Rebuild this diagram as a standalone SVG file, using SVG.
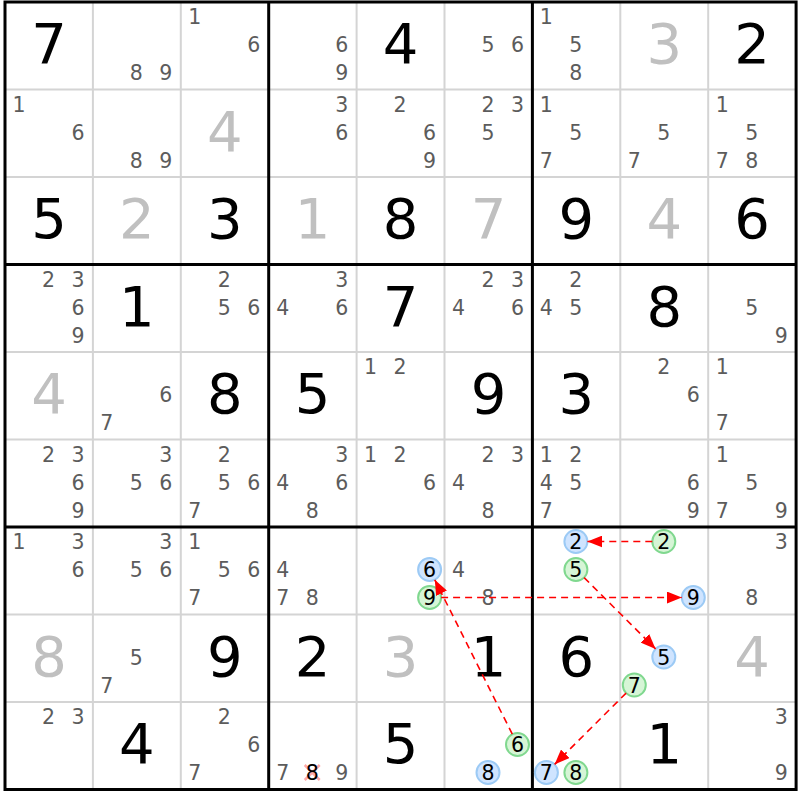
<svg xmlns="http://www.w3.org/2000/svg" width="800" height="800" viewBox="0 0 800 800">
<style>
text{font-family:"DejaVu Sans","Verdana",sans-serif;text-anchor:middle}
.g{font-size:56px;fill:#000}
.s{font-size:56px;fill:#c0c0c0}
.c{font-size:20.5px;fill:#5c5c5c}
.h{font-size:20.5px;fill:#000}
.thin{stroke:#d4d4d4;stroke-width:2}
.thick{stroke:#000;stroke-width:3}
.cb{fill:#cfe4ff;stroke:#9ccaf5;stroke-width:2}
.cg{fill:#d6f5d6;stroke:#80d88f;stroke-width:2}
.arr{stroke:#f00;stroke-width:1.6;stroke-dasharray:7,5;fill:none;marker-end:url(#ah)}
</style>
<defs>
<marker id="ah" markerUnits="userSpaceOnUse" markerWidth="15" markerHeight="12" refX="15" refY="6" orient="auto">
<path d="M0,0 L15,6 L0,12 z" fill="#f00"/>
</marker>
</defs>
<rect x="0" y="0" width="800" height="800" fill="#fff"/>
<g id="gridlines">
<path class="thin" d="M92.9,2V789.5M180.8,2V789.5M356.6,2V789.5M444.5,2V789.5M620.3,2V789.5M708.2,2V789.5M5,89.5H796.1M5,177H796.1M5,352H796.1M5,439.5H796.1M5,614.5H796.1M5,702H796.1"/>
<path class="thick" d="M268.7,2V789.5M532.4,2V789.5M5,264.5H796.1M5,527H796.1"/>
<rect class="thick" x="5" y="2" width="791.1" height="787.5" fill="none"/>
</g>
<!-- Row 0 -->
<g id="r0c0" transform="translate(5,2)"><text class="g" x="44" y="61">7</text></g>
<g id="r0c1" transform="translate(92.9,2)"><text class="c" x="43.5" y="78">8</text><text class="c" x="73" y="78">9</text></g>
<g id="r0c2" transform="translate(180.8,2)"><text class="c" x="14" y="22">1</text><text class="c" x="73" y="50">6</text></g>
<g id="r0c3" transform="translate(268.7,2)"><text class="c" x="73" y="50">6</text><text class="c" x="73" y="78">9</text></g>
<g id="r0c4" transform="translate(356.6,2)"><text class="g" x="44" y="61">4</text></g>
<g id="r0c5" transform="translate(444.5,2)"><text class="c" x="43.5" y="50">5</text><text class="c" x="73" y="50">6</text></g>
<g id="r0c6" transform="translate(532.4,2)"><text class="c" x="14" y="22">1</text><text class="c" x="43.5" y="50">5</text><text class="c" x="43.5" y="78">8</text></g>
<g id="r0c7" transform="translate(620.3,2)"><text class="s" x="44" y="61">3</text></g>
<g id="r0c8" transform="translate(708.2,2)"><text class="g" x="44" y="61">2</text></g>
<!-- Row 1 -->
<g id="r1c0" transform="translate(5,89.5)"><text class="c" x="14" y="22">1</text><text class="c" x="73" y="50">6</text></g>
<g id="r1c1" transform="translate(92.9,89.5)"><text class="c" x="43.5" y="78">8</text><text class="c" x="73" y="78">9</text></g>
<g id="r1c2" transform="translate(180.8,89.5)"><text class="s" x="44" y="61">4</text></g>
<g id="r1c3" transform="translate(268.7,89.5)"><text class="c" x="73" y="22">3</text><text class="c" x="73" y="50">6</text></g>
<g id="r1c4" transform="translate(356.6,89.5)"><text class="c" x="43.5" y="22">2</text><text class="c" x="73" y="50">6</text><text class="c" x="73" y="78">9</text></g>
<g id="r1c5" transform="translate(444.5,89.5)"><text class="c" x="43.5" y="22">2</text><text class="c" x="73" y="22">3</text><text class="c" x="43.5" y="50">5</text></g>
<g id="r1c6" transform="translate(532.4,89.5)"><text class="c" x="14" y="22">1</text><text class="c" x="43.5" y="50">5</text><text class="c" x="14" y="78">7</text></g>
<g id="r1c7" transform="translate(620.3,89.5)"><text class="c" x="43.5" y="50">5</text><text class="c" x="14" y="78">7</text></g>
<g id="r1c8" transform="translate(708.2,89.5)"><text class="c" x="14" y="22">1</text><text class="c" x="43.5" y="50">5</text><text class="c" x="14" y="78">7</text><text class="c" x="43.5" y="78">8</text></g>
<!-- Row 2 -->
<g id="r2c0" transform="translate(5,177)"><text class="g" x="44" y="61">5</text></g>
<g id="r2c1" transform="translate(92.9,177)"><text class="s" x="44" y="61">2</text></g>
<g id="r2c2" transform="translate(180.8,177)"><text class="g" x="44" y="61">3</text></g>
<g id="r2c3" transform="translate(268.7,177)"><text class="s" x="44" y="61">1</text></g>
<g id="r2c4" transform="translate(356.6,177)"><text class="g" x="44" y="61">8</text></g>
<g id="r2c5" transform="translate(444.5,177)"><text class="s" x="44" y="61">7</text></g>
<g id="r2c6" transform="translate(532.4,177)"><text class="g" x="44" y="61">9</text></g>
<g id="r2c7" transform="translate(620.3,177)"><text class="s" x="44" y="61">4</text></g>
<g id="r2c8" transform="translate(708.2,177)"><text class="g" x="44" y="61">6</text></g>
<!-- Row 3 -->
<g id="r3c0" transform="translate(5,264.5)"><text class="c" x="43.5" y="22">2</text><text class="c" x="73" y="22">3</text><text class="c" x="73" y="50">6</text><text class="c" x="73" y="78">9</text></g>
<g id="r3c1" transform="translate(92.9,264.5)"><text class="g" x="44" y="61">1</text></g>
<g id="r3c2" transform="translate(180.8,264.5)"><text class="c" x="43.5" y="22">2</text><text class="c" x="43.5" y="50">5</text><text class="c" x="73" y="50">6</text></g>
<g id="r3c3" transform="translate(268.7,264.5)"><text class="c" x="73" y="22">3</text><text class="c" x="14" y="50">4</text><text class="c" x="73" y="50">6</text></g>
<g id="r3c4" transform="translate(356.6,264.5)"><text class="g" x="44" y="61">7</text></g>
<g id="r3c5" transform="translate(444.5,264.5)"><text class="c" x="43.5" y="22">2</text><text class="c" x="73" y="22">3</text><text class="c" x="14" y="50">4</text><text class="c" x="73" y="50">6</text></g>
<g id="r3c6" transform="translate(532.4,264.5)"><text class="c" x="43.5" y="22">2</text><text class="c" x="14" y="50">4</text><text class="c" x="43.5" y="50">5</text></g>
<g id="r3c7" transform="translate(620.3,264.5)"><text class="g" x="44" y="61">8</text></g>
<g id="r3c8" transform="translate(708.2,264.5)"><text class="c" x="43.5" y="50">5</text><text class="c" x="73" y="78">9</text></g>
<!-- Row 4 -->
<g id="r4c0" transform="translate(5,352)"><text class="s" x="44" y="61">4</text></g>
<g id="r4c1" transform="translate(92.9,352)"><text class="c" x="73" y="50">6</text><text class="c" x="14" y="78">7</text></g>
<g id="r4c2" transform="translate(180.8,352)"><text class="g" x="44" y="61">8</text></g>
<g id="r4c3" transform="translate(268.7,352)"><text class="g" x="44" y="61">5</text></g>
<g id="r4c4" transform="translate(356.6,352)"><text class="c" x="14" y="22">1</text><text class="c" x="43.5" y="22">2</text></g>
<g id="r4c5" transform="translate(444.5,352)"><text class="g" x="44" y="61">9</text></g>
<g id="r4c6" transform="translate(532.4,352)"><text class="g" x="44" y="61">3</text></g>
<g id="r4c7" transform="translate(620.3,352)"><text class="c" x="43.5" y="22">2</text><text class="c" x="73" y="50">6</text></g>
<g id="r4c8" transform="translate(708.2,352)"><text class="c" x="14" y="22">1</text><text class="c" x="14" y="78">7</text></g>
<!-- Row 5 -->
<g id="r5c0" transform="translate(5,439.5)"><text class="c" x="43.5" y="22">2</text><text class="c" x="73" y="22">3</text><text class="c" x="73" y="50">6</text><text class="c" x="73" y="78">9</text></g>
<g id="r5c1" transform="translate(92.9,439.5)"><text class="c" x="73" y="22">3</text><text class="c" x="43.5" y="50">5</text><text class="c" x="73" y="50">6</text></g>
<g id="r5c2" transform="translate(180.8,439.5)"><text class="c" x="43.5" y="22">2</text><text class="c" x="43.5" y="50">5</text><text class="c" x="73" y="50">6</text><text class="c" x="14" y="78">7</text></g>
<g id="r5c3" transform="translate(268.7,439.5)"><text class="c" x="73" y="22">3</text><text class="c" x="14" y="50">4</text><text class="c" x="73" y="50">6</text><text class="c" x="43.5" y="78">8</text></g>
<g id="r5c4" transform="translate(356.6,439.5)"><text class="c" x="14" y="22">1</text><text class="c" x="43.5" y="22">2</text><text class="c" x="73" y="50">6</text></g>
<g id="r5c5" transform="translate(444.5,439.5)"><text class="c" x="43.5" y="22">2</text><text class="c" x="73" y="22">3</text><text class="c" x="14" y="50">4</text><text class="c" x="43.5" y="78">8</text></g>
<g id="r5c6" transform="translate(532.4,439.5)"><text class="c" x="14" y="22">1</text><text class="c" x="43.5" y="22">2</text><text class="c" x="14" y="50">4</text><text class="c" x="43.5" y="50">5</text><text class="c" x="14" y="78">7</text></g>
<g id="r5c7" transform="translate(620.3,439.5)"><text class="c" x="73" y="50">6</text><text class="c" x="73" y="78">9</text></g>
<g id="r5c8" transform="translate(708.2,439.5)"><text class="c" x="14" y="22">1</text><text class="c" x="43.5" y="50">5</text><text class="c" x="14" y="78">7</text><text class="c" x="73" y="78">9</text></g>
<!-- Row 6 -->
<g id="r6c0" transform="translate(5,527)"><text class="c" x="14" y="22">1</text><text class="c" x="73" y="22">3</text><text class="c" x="73" y="50">6</text></g>
<g id="r6c1" transform="translate(92.9,527)"><text class="c" x="73" y="22">3</text><text class="c" x="43.5" y="50">5</text><text class="c" x="73" y="50">6</text></g>
<g id="r6c2" transform="translate(180.8,527)"><text class="c" x="14" y="22">1</text><text class="c" x="43.5" y="50">5</text><text class="c" x="73" y="50">6</text><text class="c" x="14" y="78">7</text></g>
<g id="r6c3" transform="translate(268.7,527)"><text class="c" x="14" y="50">4</text><text class="c" x="14" y="78">7</text><text class="c" x="43.5" y="78">8</text></g>
<g id="r6c4" transform="translate(356.6,527)"><circle class="cb" cx="73" cy="42.5" r="11.5"/><text class="h" x="73" y="50">6</text><circle class="cg" cx="73" cy="70.5" r="11.5"/><text class="h" x="73" y="78">9</text></g>
<g id="r6c5" transform="translate(444.5,527)"><text class="c" x="14" y="50">4</text><text class="c" x="43.5" y="78">8</text></g>
<g id="r6c6" transform="translate(532.4,527)"><circle class="cb" cx="43.5" cy="14.5" r="11.5"/><text class="h" x="43.5" y="22">2</text><circle class="cg" cx="43.5" cy="42.5" r="11.5"/><text class="h" x="43.5" y="50">5</text></g>
<g id="r6c7" transform="translate(620.3,527)"><circle class="cg" cx="43.5" cy="14.5" r="11.5"/><text class="h" x="43.5" y="22">2</text><circle class="cb" cx="73" cy="70.5" r="11.5"/><text class="h" x="73" y="78">9</text></g>
<g id="r6c8" transform="translate(708.2,527)"><text class="c" x="73" y="22">3</text><text class="c" x="43.5" y="78">8</text></g>
<!-- Row 7 -->
<g id="r7c0" transform="translate(5,614.5)"><text class="s" x="44" y="61">8</text></g>
<g id="r7c1" transform="translate(92.9,614.5)"><text class="c" x="43.5" y="50">5</text><text class="c" x="14" y="78">7</text></g>
<g id="r7c2" transform="translate(180.8,614.5)"><text class="g" x="44" y="61">9</text></g>
<g id="r7c3" transform="translate(268.7,614.5)"><text class="g" x="44" y="61">2</text></g>
<g id="r7c4" transform="translate(356.6,614.5)"><text class="s" x="44" y="61">3</text></g>
<g id="r7c5" transform="translate(444.5,614.5)"><text class="g" x="44" y="61">1</text></g>
<g id="r7c6" transform="translate(532.4,614.5)"><text class="g" x="44" y="61">6</text></g>
<g id="r7c7" transform="translate(620.3,614.5)"><circle class="cb" cx="43.5" cy="42.5" r="11.5"/><text class="h" x="43.5" y="50">5</text><circle class="cg" cx="14" cy="70.5" r="11.5"/><text class="h" x="14" y="78">7</text></g>
<g id="r7c8" transform="translate(708.2,614.5)"><text class="s" x="44" y="61">4</text></g>
<!-- Row 8 -->
<g id="r8c0" transform="translate(5,702)"><text class="c" x="43.5" y="22">2</text><text class="c" x="73" y="22">3</text></g>
<g id="r8c1" transform="translate(92.9,702)"><text class="g" x="44" y="61">4</text></g>
<g id="r8c2" transform="translate(180.8,702)"><text class="c" x="43.5" y="22">2</text><text class="c" x="73" y="50">6</text><text class="c" x="14" y="78">7</text></g>
<g id="r8c3" transform="translate(268.7,702)"><text class="c" x="14" y="78">7</text><path d="M36,63L51,78M51,63L36,78" stroke="#ff6060" stroke-opacity="0.55" stroke-width="2.5"/><text class="h" x="43.5" y="78" fill="#222">8</text><text class="c" x="73" y="78">9</text></g>
<g id="r8c4" transform="translate(356.6,702)"><text class="g" x="44" y="61">5</text></g>
<g id="r8c5" transform="translate(444.5,702)"><circle class="cg" cx="73" cy="42.5" r="11.5"/><text class="h" x="73" y="50">6</text><circle class="cb" cx="43.5" cy="70.5" r="11.5"/><text class="h" x="43.5" y="78">8</text></g>
<g id="r8c6" transform="translate(532.4,702)"><circle class="cb" cx="14" cy="70.5" r="11.5"/><text class="h" x="14" y="78">7</text><circle class="cg" cx="43.5" cy="70.5" r="11.5"/><text class="h" x="43.5" y="78">8</text></g>
<g id="r8c7" transform="translate(620.3,702)"><text class="g" x="44" y="61">1</text></g>
<g id="r8c8" transform="translate(708.2,702)"><text class="c" x="73" y="22">3</text><text class="c" x="73" y="78">9</text></g>
<g id="connectors">
<line class="arr" x1="652.3" y1="541.5" x2="587.4" y2="541.5"/>
<line class="arr" x1="441.1" y1="597.5" x2="681.8" y2="597.5"/>
<line class="arr" x1="584.1" y1="577.6" x2="655.6" y2="648.9"/>
<line class="arr" x1="626.1" y1="693.1" x2="554.6" y2="764.4"/>
<line class="arr" x1="512.3" y1="734.2" x2="434.8" y2="579.8"/>
</g>
</svg>
